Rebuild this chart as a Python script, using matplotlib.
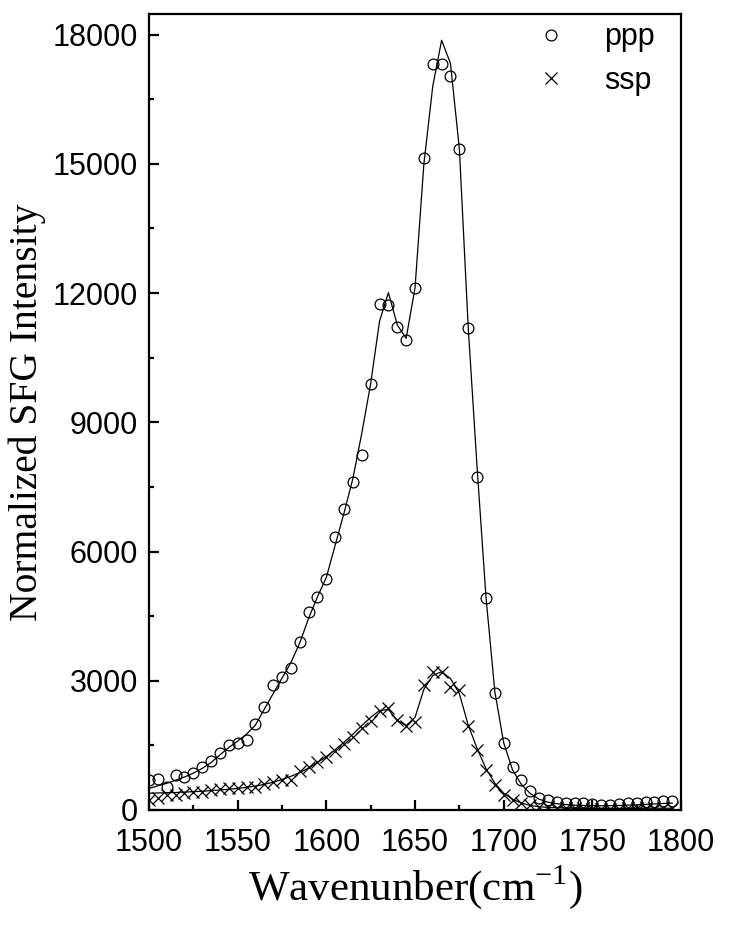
import numpy as np
import matplotlib
matplotlib.use('Agg')
import matplotlib.pyplot as plt
from matplotlib.ticker import MultipleLocator

# wavenumber grid (cm-1), 5 cm-1 steps
wn = np.arange(1500, 1800, 5)

# ppp data points
ppp = [700, 730, 540, 810, 775, 860, 990, 1130, 1320, 1500,
       1550, 1625, 2000, 2380, 2900, 3090, 3290, 3900, 4600, 4950,
       5360, 6340, 6990, 7620, 8250, 9890, 11750, 11730, 11220, 10910,
       12120, 15130, 17320, 17320, 17040, 15340, 11190, 7730, 4930, 2720,
       1550, 990, 690, 440, 285, 230, 190, 170, 155, 155,
       130, 115, 115, 130, 155, 170, 180, 195, 215, 215]

# ppp fit
ppp_fit = [500, 560, 620, 690, 765, 855, 965, 1100, 1280, 1450,
           1600, 1760, 1970, 2340, 2700, 3060, 3420, 3880, 4450, 4950,
           5400, 6150, 6900, 7700, 8750, 9900, 11350, 12010, 11260, 10950,
           12120, 15000, 16800, 17870, 17330, 15350, 11200, 7950, 4950, 2750,
           1560, 930, 590, 380, 250, 180, 145, 125, 112, 105,
           100, 98, 100, 105, 112, 120, 130, 140, 150, 160]

# ssp data points
ssp = [232, 271, 348, 348, 387, 426, 426, 464, 480, 503,
       503, 526, 542, 604, 658, 697, 700, 900, 1000, 1120,
       1240, 1380, 1530, 1700, 1900, 2060, 2290, 2360, 2090, 1950,
       2050, 2900, 3210, 3210, 2860, 2790, 1950, 1390, 930, 580,
       350, 232, 155, 116, 77, 60, 50, 45, 40, 35,
       30, 30, 30, 30, 35, 35, 40, 40, 45, 50]

# ssp fit
ssp_fit = [390, 395, 400, 405, 415, 425, 435, 450, 465, 480,
           500, 525, 555, 595, 645, 705, 780, 870, 975, 1100,
           1240, 1400, 1570, 1760, 1960, 2150, 2310, 2330, 2080, 1960,
           2150, 2800, 3120, 3210, 3050, 2700, 1970, 1430, 960, 620,
           390, 250, 160, 105, 75, 60, 52, 46, 42, 40,
           38, 38, 38, 38, 38, 38, 40, 40, 40, 40]

fig = plt.figure(figsize=(7.29, 9.31), dpi=100)
ax = fig.add_axes([0.2044, 0.13, 0.7298, 0.855])

ax.plot(wn, ppp_fit, 'k-', lw=0.9)
ax.plot(wn, ssp_fit, 'k-', lw=0.9)
ax.plot(wn, ppp, 'o', mfc='none', mec='k', mew=0.9, ms=7.8, ls='none', label='ppp')
ax.plot(wn, ssp, 'x', color='k', mew=0.9, ms=8.5, ls='none', label='ssp')

ax.set_xlim(1500, 1800)
ax.set_ylim(0, 18480)
ax.xaxis.set_major_locator(MultipleLocator(50))
ax.xaxis.set_minor_locator(MultipleLocator(25))
ax.yaxis.set_major_locator(MultipleLocator(3000))
ax.yaxis.set_minor_locator(MultipleLocator(1500))

for s in ax.spines.values():
    s.set_linewidth(1.6)
ax.tick_params(which='both', direction='in', top=False, right=False, width=1.6)
ax.tick_params(which='major', length=7)
ax.tick_params(which='minor', length=3.5)
ax.tick_params(axis='x', which='major', pad=13)
ax.tick_params(axis='y', which='major', pad=8)
for lab in ax.get_xticklabels() + ax.get_yticklabels():
    lab.set_fontfamily('Liberation Sans')
    lab.set_fontsize(22)

ax.set_xlabel('Wavenunber(cm$^{\\mathregular{-1}}$)', fontfamily='Liberation Serif', fontsize=31, labelpad=3.5)
ax.set_ylabel('Normalized SFG Intensity', fontfamily='Liberation Serif', fontsize=28.5, labelpad=4.5)

leg = ax.legend(loc='upper right', frameon=False, prop={'family': 'Liberation Sans', 'size': 22},
                handlelength=2.0, handletextpad=0.73, labelspacing=0.45,
                borderaxespad=0.0, bbox_to_anchor=(0.9737, 1.005))

fig.savefig('out.png', dpi=100)
